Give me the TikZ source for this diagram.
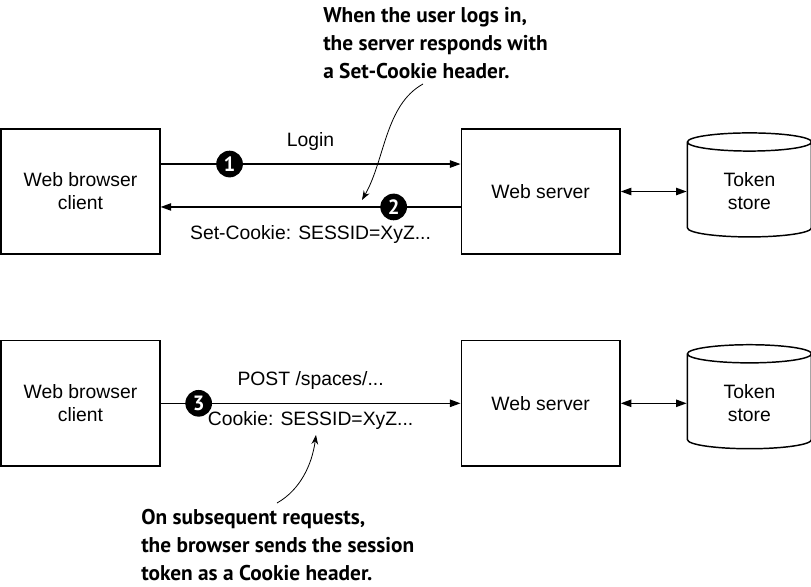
\documentclass[tikz,border=0pt]{standalone}
\usepackage{fontspec}
\setmainfont{Liberation Sans}
\newfontfamily\notefont{PT Sans}
\usetikzlibrary{arrows.meta,positioning,shapes.geometric}
\tikzset{>=Triangle,
	box/.style={% client and server boxes
		draw, rectangle,
		line width=1.1pt,
		minimum width=119pt,
		minimum height=94pt,
		align=center,
		font=\fontsize{14.5}{17.25}\selectfont
	},
	store/.style={
		draw, cylinder,
		shape border rotate=90,
		aspect=0.3,
		line width=1.1pt,
		minimum width=93pt,
		minimum height=78pt,
		align=center,
		font=\fontsize{14.5}{17.25}\selectfont
	},
	msg/.style={->, line width=1.1pt, >={Triangle[length=8pt,width=5.5pt]}},
	msgtext/.style={font=\fontsize{14.5}{17.25}\selectfont, inner sep=0pt},
	stepnum/.style={
		circle, fill=black, text=white,
		inner sep=0pt, minimum size=20pt,
		font=\notefont\bfseries\fontsize{15.5}{15.5}\selectfont
	},
	note/.style={align=left, anchor=north west, inner sep=0pt,
		font=\notefont\bfseries\fontsize{16}{21}\selectfont},
	pointer/.style={-{Stealth[length=7pt,width=5pt]}, line width=0.6pt}
}

\begin{document}
\begin{tikzpicture}[x=0.75pt,y=-0.75pt]
		\useasboundingbox (0,0) rectangle (811,586);

		% login round trip
		\node[box] (client1) at (80.5,191.5) {Web browser\\client};
		\node[box] (server1) [right=225pt of client1] {Web server};
		\node[store] (store1) [right=49.5pt of server1] {Token\\store};

		\draw[msg] ([yshift=20.6pt]client1.east) -- ([yshift=20.6pt]server1.west)
			node[stepnum, pos=0.23] (s1) {1}
			node[msgtext, midway, yshift=17.25pt] (login) {Login};
		\draw[msg] ([yshift=-11.6pt]server1.west) -- ([yshift=-11.6pt]client1.east)
			node[stepnum, pos=0.223] (s2) {2}
			node[msgtext, midway, yshift=-21pt] (setcookie) {Set-Cookie: SESSID=XyZ...};
		\draw[<->, line width=1.1pt, >={Triangle[length=8pt,width=5.5pt]}] (server1.east) -- (store1.west);

		% later requests
		\node[box] (client2) [below=63.75pt of client1] {Web browser\\client};
		\node[box] (server2) [right=225pt of client2] {Web server};
		\node[store] (store2) [right=49.5pt of server2] {Token\\store};

		\draw[msg] (client2.east) -- (server2.west)
			node[stepnum, pos=0.127] (s3) {3}
			node[msgtext, midway, yshift=17.25pt] (post) {POST /spaces/...}
			node[msgtext, midway, yshift=-12.75pt] (cookie) {Cookie: SESSID=XyZ...};
		\draw[<->, line width=1.1pt, >={Triangle[length=8pt,width=5.5pt]}] (server2.east) -- (store2.west);

		% notes
		\node[note] (note1) at (323,7) {When the user logs in,\\the server responds with\\a Set-Cookie header.};
		\node[note] (note2) at (141,509) {On subsequent requests,\\the browser sends the session\\token as a Cookie header.};

		\coordinate (from1) at (423,84);
		\coordinate (tip1) at (362,200);
		\coordinate (from2) at (277,503);
		\coordinate (tip2) at (316,435);
		\draw[pointer] (from1) .. controls (385,105) and (385,160) .. (tip1);
		\draw[pointer] (from2) .. controls (300,490) and (312,465) .. (tip2);
	\end{tikzpicture}
\end{document}
